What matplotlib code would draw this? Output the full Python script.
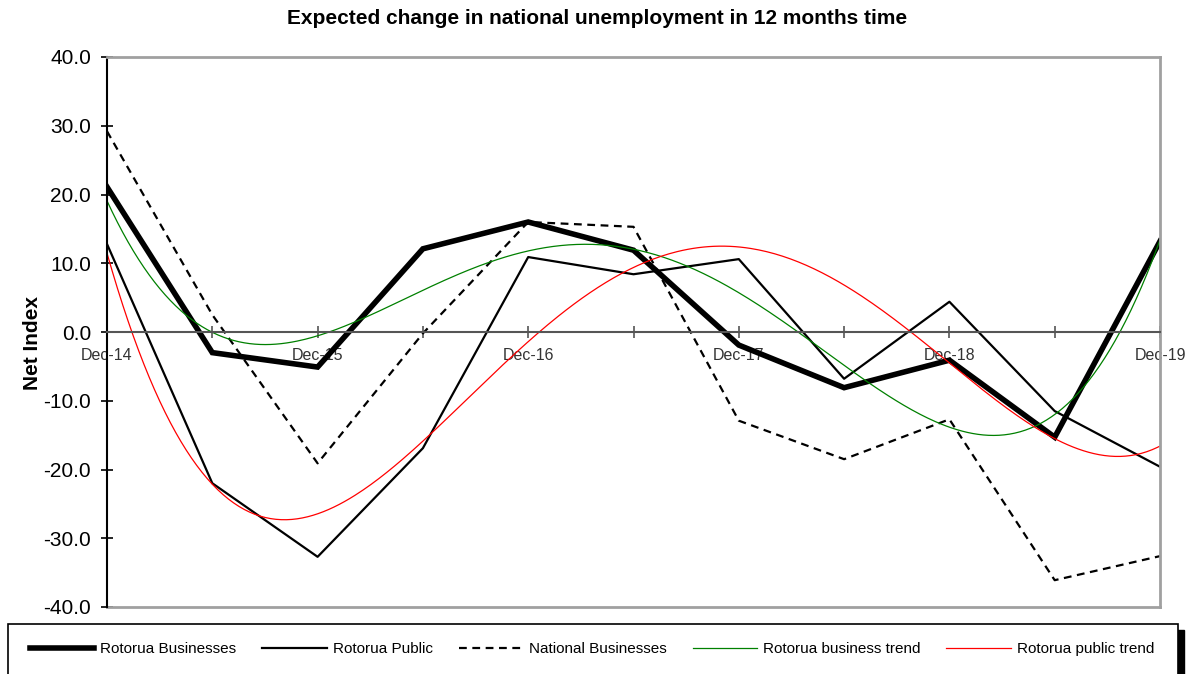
import numpy as np
import matplotlib.pyplot as plt
from matplotlib.patches import Rectangle

# half-yearly survey points, Dec-14 .. Dec-19
periods = np.arange(11)
year_labels = ["Dec-14", "Dec-15", "Dec-16", "Dec-17", "Dec-18", "Dec-19"]

rotorua_business = [21.1, -3.0, -5.1, 12.1, 16.0, 11.9, -1.9, -8.1, -4.1, -15.3, 13.2]
rotorua_public = [12.8, -22.0, -32.7, -16.9, 10.9, 8.4, 10.6, -6.8, 4.4, -11.5, -19.6]
national_business = [29.2, 2.5, -19.1, -0.2, 16.0, 15.3, -12.9, -18.5, -12.7, -36.1, -32.6]

y_ticks = [-40, -30, -20, -10, 0, 10, 20, 30, 40]

# excel-style polynomial trendlines
TREND_ORDER = 4
xs = np.linspace(0, 10, 400)
bus_trend = np.polyval(np.polyfit(periods, rotorua_business, TREND_ORDER), xs)
pub_trend = np.polyval(np.polyfit(periods, rotorua_public, TREND_ORDER), xs)

plt.rcParams['font.family'] = ['Liberation Sans', 'DejaVu Sans']

fig = plt.figure(figsize=(11.89, 6.74), dpi=100)
ax = fig.add_axes([107 / 1189, 1 - 607 / 674, 1053 / 1189, 550 / 674])

ax.plot(periods, rotorua_business, color='black', lw=4, solid_joinstyle='miter',
        label='Rotorua Businesses')
ax.plot(periods, rotorua_public, color='black', lw=1.6, label='Rotorua Public')
ax.plot(periods, national_business, color='black', lw=1.6, dashes=(3.5, 2.5),
        label='National Businesses')
ax.plot(xs, bus_trend, color='#008000', lw=0.9, label='Rotorua business trend')
ax.plot(xs, pub_trend, color='#ff0000', lw=0.9, label='Rotorua public trend')

ax.set_xlim(0, 10)
ax.set_ylim(-40, 40)

# category axis sits on the zero line
ax.spines['bottom'].set_position(('data', 0))
ax.spines['bottom'].set_color('#555555')
ax.spines['bottom'].set_linewidth(1.5)
ax.spines['left'].set_color('black')
ax.spines['left'].set_linewidth(1.5)
for s in ['top', 'right']:
    ax.spines[s].set_color('#a0a0a0')
    ax.spines[s].set_linewidth(2)
ax.plot([0, 10], [-40, -40], color='#a0a0a0', lw=2, clip_on=False)

ax.set_xticks(periods[::2])
ax.set_xticks(periods[1::2], minor=True)
ax.set_xticklabels(year_labels, fontsize=11.5, color='#333333')
ax.tick_params(axis='x', which='both', direction='inout', length=9, width=1.2,
               color='#555555', pad=7)

ax.set_yticks(y_ticks)
ax.set_yticklabels([f"{v:.1f}" for v in y_ticks], fontsize=15)
ax.tick_params(axis='y', direction='inout', length=9, width=1.2, pad=7)
ax.set_ylabel('Net Index', fontsize=15, fontweight='bold')
ax.yaxis.set_label_coords(-0.062, 0.48)

fig.text(597 / 1189, 1 - 19 / 674, 'Expected change in national unemployment in 12 months time',
         ha='center', va='center', fontsize=15, fontweight='bold')

# legend box with the offset shadow on its right edge
fig.patches.append(Rectangle((13 / 1189, -0.1), 1171 / 1189, 0.1 + 1 - 630 / 674,
                             transform=fig.transFigure, fc='black', ec='black', zorder=0))
fig.patches.append(Rectangle((8 / 1189, -0.1), 1170 / 1189, 0.1 + 1 - 624 / 674,
                             transform=fig.transFigure, fc='white', ec='black', lw=1.2,
                             zorder=1))
handles, labels = ax.get_legend_handles_labels()
fig.legend(handles, labels, loc='center left', bbox_to_anchor=(30 / 1189, 1 - 649 / 674),
           ncol=5, frameon=False, borderpad=0, borderaxespad=0, handlelength=4.2,
           handletextpad=0.4, columnspacing=1.7, fontsize=11)

fig.savefig('out.png', dpi=100)
